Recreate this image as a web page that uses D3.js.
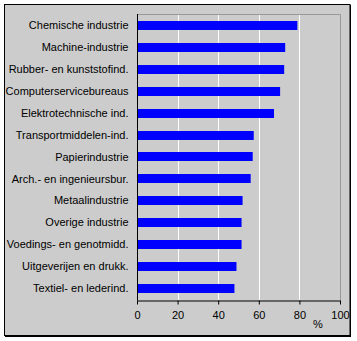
<!DOCTYPE html>
<html>
<head>
<meta charset="utf-8">
<script src="https://cdn.jsdelivr.net/npm/d3@7"></script>
<style>
  html, body { margin: 0; padding: 0; background: #ffffff; }
  svg { display: block; }
  text { font-family: "Liberation Sans", Arial, sans-serif; font-size: 11px; fill: #000; }
</style>
</head>
<body>
<svg id="chart" width="357" height="341"></svg>
<script>
// Sectors (top to bottom) and their share in percent
const categories = [
  "Chemische industrie",
  "Machine-industrie",
  "Rubber- en kunststofind.",
  "Computerservicebureaus",
  "Elektrotechnische ind.",
  "Transportmiddelen-ind.",
  "Papierindustrie",
  "Arch.- en ingenieursbur.",
  "Metaalindustrie",
  "Overige industrie",
  "Voedings- en genotmidd.",
  "Uitgeverijen en drukk.",
  "Textiel- en lederind."
];
const values = [79, 73, 72.5, 70.5, 67.5, 57.5, 57, 56, 52, 51.5, 51.5, 49, 48];
const xTicks = [0, 20, 40, 60, 80, 100];
const xUnit = "%";

const svg = d3.select("#chart");

// Outer frame with a heavier bottom/right edge
svg.append("rect")
  .attr("x", 4.5).attr("y", 4.5)
  .attr("width", 345.5).attr("height", 331)
  .attr("fill", "#cccccc")
  .attr("stroke", "#000").attr("stroke-width", 1);
svg.append("line").attr("x1", 350.5).attr("x2", 350.5).attr("y1", 5).attr("y2", 337)
  .attr("stroke", "#000").attr("stroke-width", 1);
svg.append("line").attr("x1", 5).attr("x2", 351).attr("y1", 336.5).attr("y2", 336.5)
  .attr("stroke", "#000").attr("stroke-width", 1);

const plot = { left: 137, right: 340, top: 14, bottom: 300 };

const x = d3.scaleLinear().domain([0, 100]).range([plot.left, plot.right]);
const y = d3.scaleBand().domain(categories).range([plot.top, plot.bottom]).paddingInner(0.59).paddingOuter(0.3);

// Plot border (top and right in grey)
svg.append("path")
  .attr("d", `M${plot.left},${plot.top + 0.5}H${plot.right + 0.5}V${plot.bottom}`)
  .attr("fill", "none").attr("stroke", "#999999").attr("stroke-width", 1);

// Vertical gridlines
svg.append("g").selectAll("line")
  .data(xTicks.filter(t => t > 0 && t < 100))
  .join("line")
  .attr("x1", d => Math.round(x(d)) + 0.5).attr("x2", d => Math.round(x(d)) + 0.5)
  .attr("y1", plot.top + 1).attr("y2", plot.bottom)
  .attr("stroke", "#ffffff").attr("stroke-width", 1);

// Bars
svg.append("g").selectAll("rect")
  .data(categories)
  .join("rect")
  .attr("x", x(0))
  .attr("y", d => Math.round(y(d)))
  .attr("width", (d, i) => x(values[i]) - x(0))
  .attr("height", Math.round(y.bandwidth()))
  .attr("fill", "#0000ff");

// Category axis
const yAxis = svg.append("g")
  .attr("transform", `translate(${plot.left + 0.5},0)`)
  .call(d3.axisLeft(y).tickSize(0).tickPadding(9));
yAxis.select(".domain").attr("stroke", "#000").attr("d", `M0,${plot.top}V${plot.bottom + 0.5}`);
yAxis.selectAll("text").style("font-size", "11px").attr("fill", "#000");

// Value axis
const xAxis = svg.append("g")
  .attr("transform", `translate(0,${plot.bottom + 0.5})`)
  .call(d3.axisBottom(x).tickValues(xTicks).tickSize(4).tickPadding(7).tickSizeOuter(0));
xAxis.select(".domain").attr("stroke", "#000");
xAxis.selectAll(".tick line").attr("stroke", "#000");
xAxis.selectAll("text").style("font-size", "11px").attr("fill", "#000");

// Unit label
svg.append("text")
  .attr("x", 318).attr("y", 328)
  .attr("text-anchor", "middle")
  .text(xUnit);
</script>
</body>
</html>
